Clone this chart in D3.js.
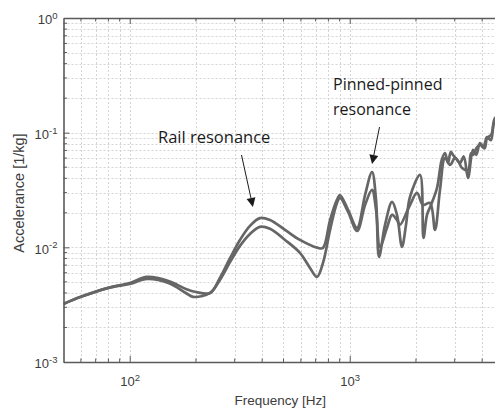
<!DOCTYPE html>
<html>
<head>
<meta charset="utf-8">
<script src="https://cdn.jsdelivr.net/npm/d3@7/dist/d3.min.js"></script>
<style>
  body { margin: 0; background: #fff; }
  svg { display: block; }
</style>
</head>
<body>
<svg id="chart" width="495" height="412"></svg>
<script>
// Accelerance FRFs, two measurements (frequency in Hz, accelerance in 1/kg)
const freqA = [50, 60, 80, 100, 120, 150, 180, 200, 232, 257, 286, 317, 352, 391, 434, 508, 594, 718, 756, 814, 875, 903, 983, 1080, 1174, 1263, 1317, 1359, 1447, 1557, 1640, 1728, 1802, 1879, 2087, 2164, 2245, 2341, 2493, 2620, 2711, 2797, 2880, 2947, 3050, 3172, 3300, 3449, 3635, 3760, 3910, 4050, 4208, 4380, 4576, 5000];
const accA  = [3.21e-3, 3.70e-3, 4.43e-3, 4.89e-3, 5.52e-3, 5.09e-3, 4.34e-3, 4.08e-3, 4.00e-3, 5.41e-3, 8.08e-3, 1.16e-2, 1.54e-2, 1.80e-2, 1.73e-2, 1.42e-2, 1.16e-2, 9.88e-3, 9.88e-3, 1.73e-2, 2.59e-2, 2.86e-2, 2.12e-2, 1.48e-2, 2.86e-2, 4.54e-2, 2.59e-2, 8.25e-3, 1.57e-2, 2.49e-2, 1.92e-2, 1.01e-2, 1.57e-2, 2.75e-2, 4.28e-2, 1.21e-2, 1.92e-2, 2.34e-2, 3.29e-2, 5.8e-2, 6.65e-2, 5.44e-2, 6.8e-2, 6.39e-2, 5.9e-2, 5.44e-2, 6.2e-2, 4.03e-2, 7.07e-2, 6.4e-2, 8.13e-2, 7.5e-2, 9.17e-2, 8.6e-2, 0.129, 0.14];

const freqB = [50, 60, 80, 100, 120, 150, 180, 194, 232, 257, 286, 317, 352, 391, 434, 508, 594, 660, 710, 756, 814, 875, 903, 983, 1080, 1174, 1263, 1317, 1373, 1477, 1557, 1640, 1692, 1879, 2022, 2153, 2317, 2441, 2572, 2711, 2856, 3010, 3120, 3239, 3449, 3560, 3635, 3780, 3910, 4100, 4208, 4400, 4576, 5000];
const accB  = [3.21e-3, 3.70e-3, 4.43e-3, 4.80e-3, 5.30e-3, 4.89e-3, 4.00e-3, 3.70e-3, 4.00e-3, 5.20e-3, 7.46e-3, 1.03e-2, 1.31e-2, 1.51e-2, 1.45e-2, 1.16e-2, 8.94e-3, 6.61e-3, 5.52e-3, 7.31e-3, 1.42e-2, 2.44e-2, 2.70e-2, 2.04e-2, 1.39e-2, 2.34e-2, 3.17e-2, 2.12e-2, 1.01e-2, 1.48e-2, 1.92e-2, 1.73e-2, 1.57e-2, 2.34e-2, 2.98e-2, 2.34e-2, 2.44e-2, 1.42e-2, 3.17e-2, 6.02e-2, 5.23e-2, 6.02e-2, 5.6e-2, 4.92e-2, 4.73e-2, 6.6e-2, 6.39e-2, 7.4e-2, 7.81e-2, 7.3e-2, 8.99e-2, 9.6e-2, 0.134, 0.15];

// Decade tick exponents
const xTickExps = [2, 3];
const yTickExps = [0, -1, -2, -3];

const xLabel = "Frequency [Hz]";
const yLabel = "Accelerance [1/kg]";

// Annotation texts and the points their arrows point at (Hz, 1/kg)
const railText = ["Rail resonance"];
const railTarget = [363, 0.0225];
const pinnedText = ["Pinned-pinned", "resonance"];
const pinnedTarget = [1263, 0.0533];

// ---------------------------------------------------------------
const svg = d3.select("#chart");
const plotL = 63.5, plotR = 503.5, plotT = 18, plotB = 362;

const x = d3.scaleLog().domain([50, 5000]).range([plotL, plotR]);
const y = d3.scaleLog().domain([1e-3, 1]).range([plotB, plotT]);

svg.append("rect").attr("width", 495).attr("height", 412).attr("fill", "#fff");

svg.append("defs").append("clipPath").attr("id", "plot-clip")
  .append("rect").attr("x", plotL).attr("y", plotT)
  .attr("width", plotR - plotL).attr("height", plotB - plotT);

// grid values: every 1..9 multiple of each decade
const xGrid = [];
for (let e = 1; e <= 3; e++) for (let m = 1; m <= 9; m++) {
  const v = m * Math.pow(10, e);
  if (v > 50 && v < 5000) xGrid.push(v);
}
const yGrid = [];
for (let e = -3; e <= -1; e++) for (let m = 1; m <= 9; m++) {
  const v = m * Math.pow(10, e);
  if (v > 1e-3 && v < 1) yGrid.push(v);
}

const grid = svg.append("g").attr("stroke", "#d4d4d4").attr("stroke-width", 1)
  .attr("stroke-dasharray", "2,2").attr("fill", "none");
grid.selectAll("line.vx").data(xGrid).join("line")
  .attr("x1", d => Math.round(x(d)) + 0.5).attr("x2", d => Math.round(x(d)) + 0.5)
  .attr("y1", plotT).attr("y2", plotB);
grid.selectAll("line.hy").data(yGrid).join("line")
  .attr("y1", d => Math.round(y(d)) + 0.5).attr("y2", d => Math.round(y(d)) + 0.5)
  .attr("x1", plotL).attr("x2", plotR);

// FRF curves
const line = d3.line()
  .x(d => x(d[0])).y(d => y(d[1]))
  .curve(d3.curveCatmullRom.alpha(0.5));

const curves = svg.append("g").attr("clip-path", "url(#plot-clip)");
[[freqA, accA], [freqB, accB]].forEach(([f, a]) => {
  curves.append("path")
    .datum(f.map((v, i) => [v, a[i]]))
    .attr("d", line)
    .attr("fill", "none")
    .attr("stroke", "#666666")
    .attr("stroke-width", 2.7)
    .attr("stroke-linejoin", "round");
});

// axes with inward ticks
const axisColor = "#5a5a5a";
const xMajor = xTickExps.map(e => Math.pow(10, e));
const yMajor = yTickExps.map(e => Math.pow(10, e));

function styleAxis(g) {
  g.select(".domain").attr("stroke", axisColor).attr("stroke-width", 1.6);
  g.selectAll(".tick line").attr("stroke", axisColor).attr("stroke-width", 1);
}

function supLabels(sel, exps) {
  sel.selectAll(".tick text").each(function(d, i) {
    const t = d3.select(this).text("");
    t.append("tspan").text("10");
    t.append("tspan").attr("dy", "-0.55em").attr("font-size", "9.5px").text(exps[i]);
  });
}

// minor ticks
const minorXVals = xGrid.filter(v => !xMajor.includes(v));
const minorYVals = yGrid.filter(v => !yMajor.includes(v));
const minor = svg.append("g").attr("stroke", axisColor);
minor.selectAll("line.b").data(minorXVals).join("line").attr("class", "b")
  .attr("x1", d => x(d)).attr("x2", d => x(d)).attr("y1", plotB).attr("y2", plotB - 3.5);
minor.selectAll("line.t").data(minorXVals).join("line").attr("class", "t")
  .attr("x1", d => x(d)).attr("x2", d => x(d)).attr("y1", plotT).attr("y2", plotT + 3.5);
minor.selectAll("line.l").data(minorYVals).join("line").attr("class", "l")
  .attr("x1", plotL).attr("x2", plotL + 3.5).attr("y1", d => y(d)).attr("y2", d => y(d));

const tickFont = "'Liberation Sans', Arial, sans-serif";
const xAxis = svg.append("g").attr("transform", `translate(0,${plotB})`)
  .call(d3.axisBottom(x).tickValues(xMajor).tickSizeInner(-6).tickSizeOuter(0).tickPadding(15))
  .attr("font-family", tickFont).attr("font-size", 13);
styleAxis(xAxis);
supLabels(xAxis, xTickExps);
xAxis.selectAll(".tick text").attr("fill", "#3c3c3c");

const xTopAxis = svg.append("g").attr("transform", `translate(0,${plotT})`)
  .call(d3.axisTop(x).tickValues(xMajor).tickSizeInner(-6).tickSizeOuter(0).tickFormat(""));
styleAxis(xTopAxis);

const yAxis = svg.append("g").attr("transform", `translate(${plotL},0)`)
  .call(d3.axisLeft(y).tickValues(yMajor).tickSizeInner(-6).tickSizeOuter(0).tickPadding(6))
  .attr("font-family", tickFont).attr("font-size", 13);
styleAxis(yAxis);
supLabels(yAxis, yTickExps);
yAxis.selectAll(".tick text").attr("fill", "#3c3c3c").attr("dy", "0.45em");

// axis titles
svg.append("text")
  .attr("x", (plotL + 495) / 2 + 1).attr("y", 405)
  .attr("text-anchor", "middle")
  .attr("font-family", tickFont).attr("font-size", 13.5)
  .attr("fill", "#3c3c3c").text(xLabel);

svg.append("text")
  .attr("transform", `translate(24,${(plotT + plotB) / 2 + 3}) rotate(-90)`)
  .attr("text-anchor", "middle")
  .attr("font-family", tickFont).attr("font-size", 14.5)
  .attr("fill", "#3c3c3c").text(yLabel);

// annotations
const annFont = "'Open Sans', 'Noto Sans', sans-serif";
svg.append("text").attr("x", 158).attr("y", 143)
  .attr("font-family", annFont).attr("font-size", 16.5).attr("fill", "#1a1a1a")
  .text(railText[0]);

const pt = svg.append("text").attr("font-family", annFont).attr("font-size", 16).attr("fill", "#1a1a1a");
pinnedText.forEach((s, i) => {
  pt.append("tspan").attr("x", 333).attr("y", 90 + i * 25).text(s);
});

function arrow(x0, y0, x1, y1) {
  const ang = Math.atan2(y1 - y0, x1 - x0);
  const len = 9, half = 4.5;
  const bx = x1 - len * Math.cos(ang), by = y1 - len * Math.sin(ang);
  svg.append("line").attr("x1", x0).attr("y1", y0).attr("x2", bx).attr("y2", by)
    .attr("stroke", "#1a1a1a").attr("stroke-width", 1);
  const px = -Math.sin(ang) * half, py = Math.cos(ang) * half;
  svg.append("path")
    .attr("d", `M${x1},${y1}L${bx + px},${by + py}L${bx - px},${by - py}Z`)
    .attr("fill", "#1a1a1a");
}
arrow(241.5, 155, x(railTarget[0]), y(railTarget[1]));
arrow(379.5, 127, x(pinnedTarget[0]), y(pinnedTarget[1]));
</script>
</body>
</html>
